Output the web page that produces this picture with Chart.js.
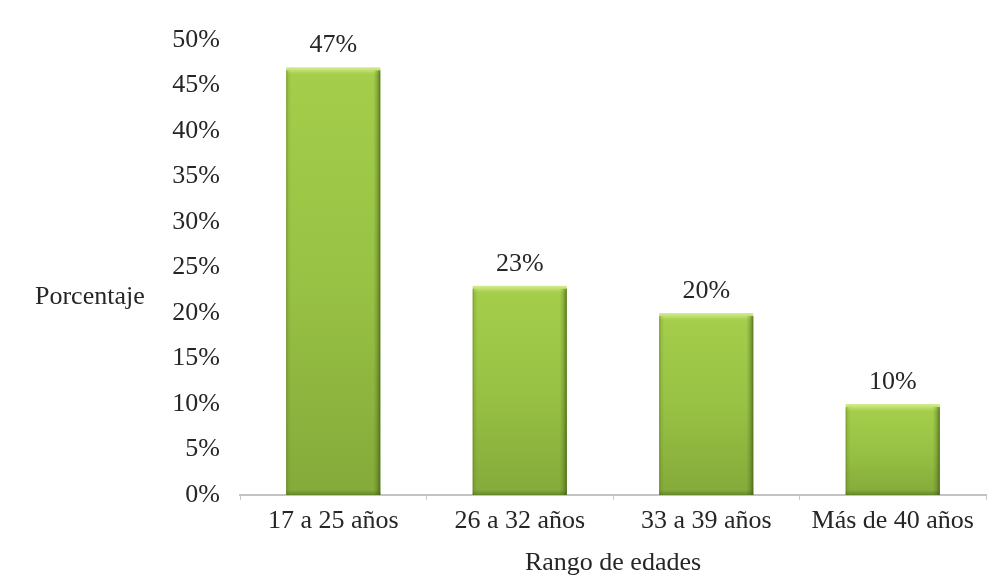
<!DOCTYPE html>
<html>
<head>
<meta charset="utf-8">
<script src="https://cdn.jsdelivr.net/npm/chart.js@4.4.0/dist/chart.umd.min.js"></script>
<style>
html,body{margin:0;padding:0;background:#fff;}
#wrap{width:994px;height:584px;}
</style>
</head>
<body>
<div id="wrap"><canvas id="c" width="994" height="584"></canvas></div>
<script>
const categories = ["17 a 25 años", "26 a 32 años", "33 a 39 años", "Más de 40 años"];
const values = [47, 23, 20, 10];
const yTicks = [0, 5, 10, 15, 20, 25, 30, 35, 40, 45, 50];
const yTitle = "Porcentaje";
const xTitle = "Rango de edades";

const FONT = "'Liberation Serif', 'Times New Roman', serif";
const TEXT = "#262626";

function barFill(ctx) {
  const chart = ctx.chart;
  if (!chart.chartArea || ctx.parsed === undefined) return "#9cc748";
  const ys = chart.scales.y;
  const top = ys.getPixelForValue(ctx.parsed.y);
  const bot = ys.getPixelForValue(0);
  const h = Math.max(bot - top, 1);
  const g = chart.ctx.createLinearGradient(0, top, 0, bot);
  const s = (px) => Math.min(px / h, 1);
  g.addColorStop(0, "#d4ec92");
  g.addColorStop(s(3), "#c2e070");
  g.addColorStop(s(6), "#a9d250");
  g.addColorStop(s(8), "#a3cd4a");
  g.addColorStop(0.5, "#98c244");
  g.addColorStop(1, "#84aa3a");
  return g;
}

const overlay = {
  id: "overlay",
  afterDatasetsDraw(chart) {
    const c = chart.ctx;
    const meta = chart.getDatasetMeta(0);
    meta.data.forEach((bar) => {
      const p = bar.getProps(["x", "y", "base", "width"], true);
      const l = p.x - p.width / 2, r = p.x + p.width / 2;
      const h = p.base - p.y;
      c.save();
      // left edge
      let g = c.createLinearGradient(l, 0, l + 5, 0);
      g.addColorStop(0, "rgba(80,110,25,0.55)");
      g.addColorStop(0.4, "rgba(80,110,25,0.15)");
      g.addColorStop(1, "rgba(80,110,25,0)");
      c.fillStyle = g;
      c.fillRect(l, p.y + 3, 5, h - 3);
      // right edge
      g = c.createLinearGradient(r - 7, 0, r, 0);
      g.addColorStop(0, "rgba(60,90,20,0)");
      g.addColorStop(0.5, "rgba(60,90,20,0.25)");
      g.addColorStop(1, "rgba(55,80,15,0.7)");
      c.fillStyle = g;
      c.fillRect(r - 7, p.y + 3, 7, h - 3);
      // bottom edge
      g = c.createLinearGradient(0, p.base - 5, 0, p.base);
      g.addColorStop(0, "rgba(60,90,20,0)");
      g.addColorStop(1, "rgba(60,90,20,0.45)");
      c.fillStyle = g;
      c.fillRect(l, p.base - 5, p.width, 5);
      c.restore();
    });
  }
};

const labels = {
  id: "labels",
  afterDraw(chart) {
    const c = chart.ctx;
    const meta = chart.getDatasetMeta(0);
    c.save();
    c.font = "26px " + FONT;
    c.fillStyle = TEXT;
    c.textAlign = "center";
    c.textBaseline = "alphabetic";
    meta.data.forEach((bar, i) => {
      c.fillText(values[i] + "%", bar.x, bar.y - 15);
    });
    c.textAlign = "left";
    c.textBaseline = "middle";
    c.fillText(yTitle, 35, 297);
    c.restore();
  }
};

new Chart(document.getElementById("c"), {
  type: "bar",
  data: {
    labels: categories,
    datasets: [{
      data: values,
      backgroundColor: barFill,
      borderWidth: 0,
      categoryPercentage: 1,
      barPercentage: 0.505
    }]
  },
  options: {
    responsive: false,
    animation: false,
    devicePixelRatio: 1,
    layout: { padding: { top: 40, right: 8, left: 0, bottom: 0 } },
    plugins: { legend: { display: false }, tooltip: { enabled: false } },
    scales: {
      x: {
        afterFit(s) { s.height = 89; },
        grid: { display: true, drawOnChartArea: false, drawTicks: true, tickLength: 5, color: "#c8c8c8", lineWidth: 1, offset: true },
        border: { display: true, color: "#c4c4c4", width: 2 },
        ticks: { color: TEXT, font: { family: FONT, size: 26 }, padding: 6, maxRotation: 0, autoSkip: false },
        title: { display: true, text: xTitle, color: TEXT, font: { family: FONT, size: 26 }, padding: { top: 0, bottom: 5 } }
      },
      y: {
        min: 0, max: 50,
        afterFit(s) { s.width = 240; },
        afterBuildTicks(s) { s.ticks = yTicks.map(v => ({ value: v })); },
        grid: { display: false, drawTicks: false },
        border: { display: false },
        ticks: { color: TEXT, padding: 20, font: { family: FONT, size: 26 }, callback: v => v + "%" }
      }
    }
  },
  plugins: [overlay, labels]
});
</script>
</body>
</html>
